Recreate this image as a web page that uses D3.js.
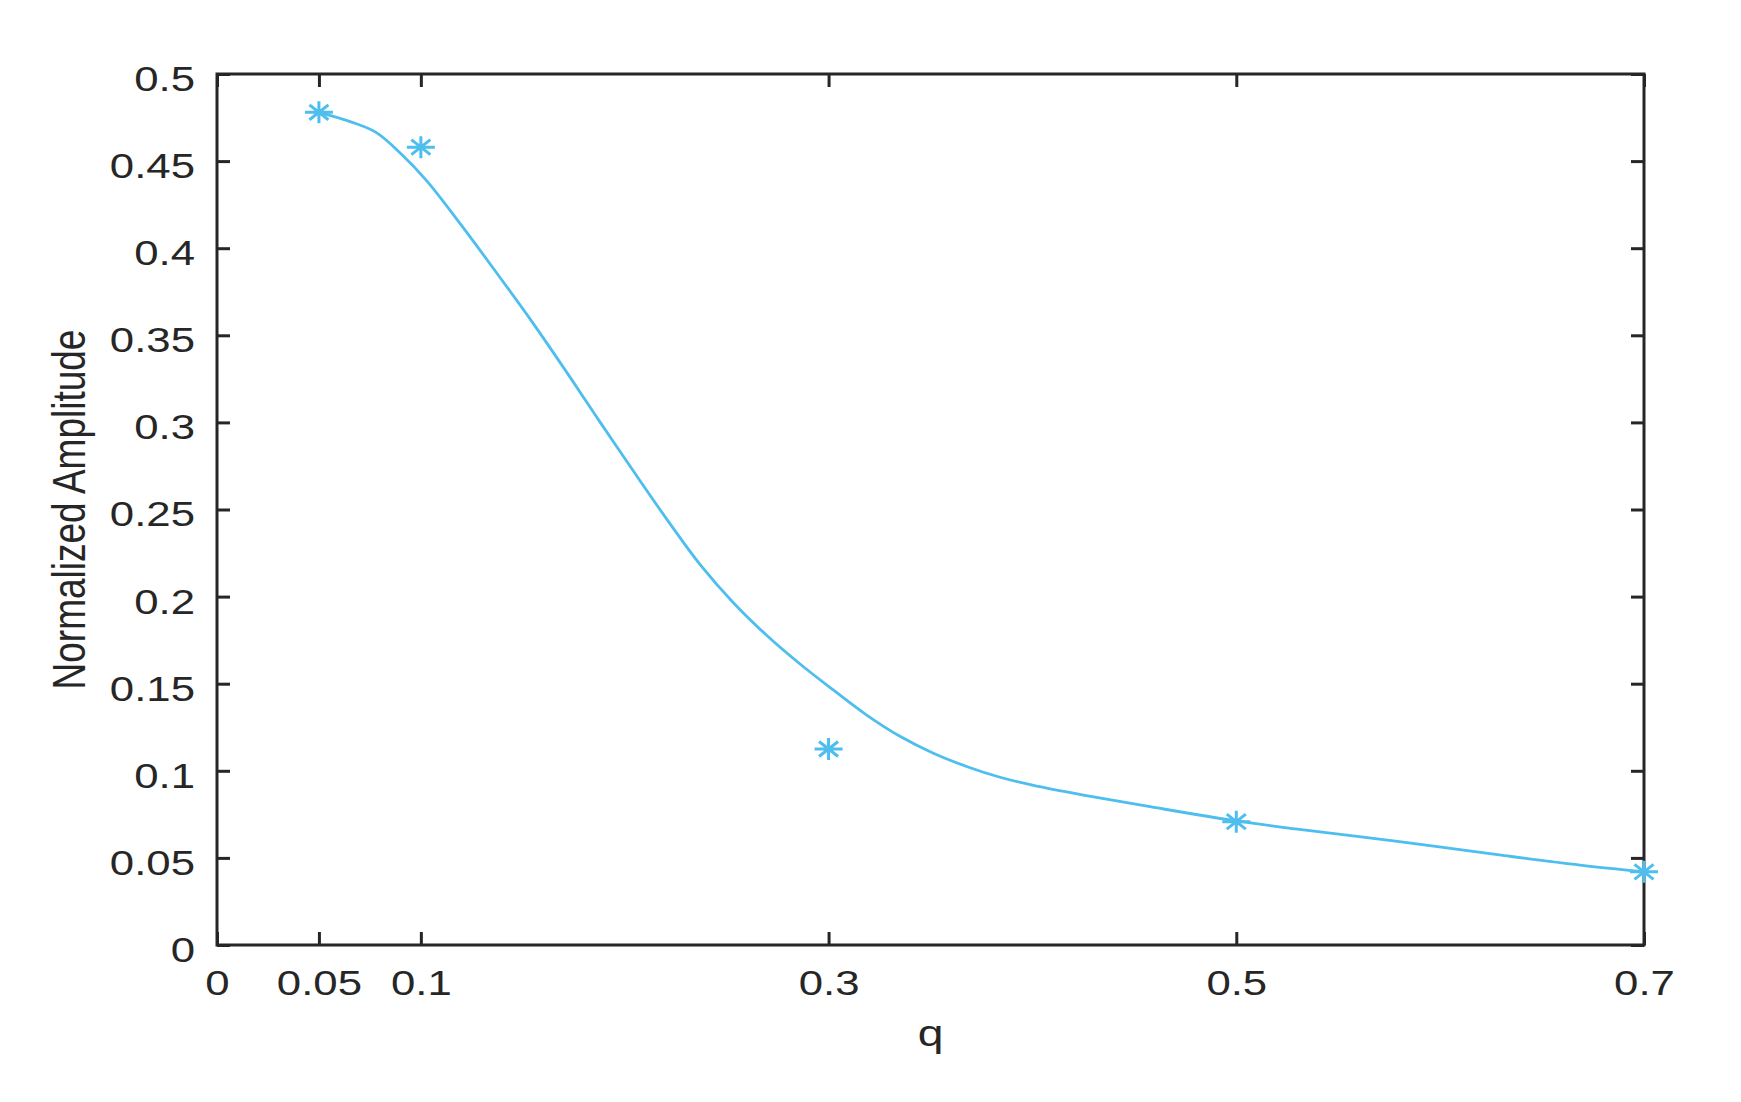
<!DOCTYPE html>
<html>
<head>
<meta charset="utf-8">
<script src="https://cdn.jsdelivr.net/npm/d3@7"></script>
<style>
  body { margin: 0; background: #fff; }
  text { font-family: "Liberation Sans", Arial, sans-serif; fill: #262626; }
</style>
</head>
<body>
<script>
// measured points (markers)
var pointQ = [0.05, 0.1, 0.3, 0.5, 0.7];
var pointAmp = [0.478, 0.458, 0.1125, 0.0708, 0.042];

// fitted curve
var curveQ = [0.05, 0.065, 0.078, 0.09, 0.103, 0.119, 0.1355, 0.155, 0.172, 0.188,
              0.204, 0.2206, 0.2369, 0.2533, 0.2696, 0.286, 0.3023, 0.3187, 0.335, 0.3514,
              0.3677, 0.3841, 0.4, 0.425, 0.4577, 0.5, 0.53, 0.58, 0.629, 0.6686, 0.7];
var curveAmp = [0.478, 0.4728, 0.4665, 0.4545, 0.4385, 0.4145, 0.3885, 0.357, 0.328, 0.3, 
                0.2725, 0.2445, 0.2185, 0.1965, 0.1778, 0.1613, 0.1464, 0.132, 0.1198, 0.1101,
                0.1025, 0.0963, 0.0918, 0.0861, 0.0794, 0.0712, 0.0665, 0.0593, 0.0517, 0.0459, 0.0421];

var xTicks = [0, 0.05, 0.1, 0.3, 0.5, 0.7];
var yTicks = [0, 0.05, 0.1, 0.15, 0.2, 0.25, 0.3, 0.35, 0.4, 0.45, 0.5];

var W = 1741, H = 1102;
var pLeft = 217, pRight = 1644, pTop = 74, pBottom = 945;
var ink = "#262626", blue = "#4DBEEE";
var stretch = 1.25; // the picture is wide-stretched; text follows it

var svg = d3.select("body")
    .append("svg")
    .attr("width", W)
    .attr("height", H);

var x = d3.scaleLinear().domain([0, 0.7]).range([pLeft, pRight]);
var y = d3.scaleLinear().domain([0, 0.5]).range([pBottom, pTop]);

function styleAxis(g) {
  g.select(".domain").remove();
  g.selectAll(".tick line").attr("stroke", ink).attr("stroke-width", 3);
}

// bottom axis with labels
var gx = svg.append("g")
    .attr("transform", "translate(0," + pBottom + ")")
    .call(d3.axisBottom(x).tickValues(xTicks).tickFormat(d3.format("")).tickSizeInner(-13).tickSizeOuter(0).tickPadding(25));
styleAxis(gx);
gx.selectAll(".tick text")
    .attr("font-size", 35)
    .attr("fill", ink)
    .attr("transform", "scale(" + stretch + ",1)");

// left axis with labels
var gy = svg.append("g")
    .attr("transform", "translate(" + pLeft + ",0)")
    .call(d3.axisLeft(y).tickValues(yTicks).tickFormat(d3.format("")).tickSizeInner(-13).tickSizeOuter(0).tickPadding(0));
styleAxis(gy);
gy.selectAll(".tick text")
    .attr("font-size", 35)
    .attr("fill", ink)
    .attr("x", 0)
    .attr("dy", "0.47em")
    .attr("transform", "translate(-22,0) scale(" + stretch + ",1)");

svg.selectAll("g").attr("font-family", null).attr("font-size", null);

// mirrored ticks on top and right
var gt = svg.append("g")
    .attr("transform", "translate(0," + pTop + ")")
    .call(d3.axisTop(x).tickValues(xTicks).tickFormat("").tickSizeInner(-13).tickSizeOuter(0));
styleAxis(gt);
var gr = svg.append("g")
    .attr("transform", "translate(" + pRight + ",0)")
    .call(d3.axisRight(y).tickValues(yTicks).tickFormat("").tickSizeInner(-13).tickSizeOuter(0));
styleAxis(gr);

// box
svg.append("rect")
    .attr("x", pLeft)
    .attr("y", pTop)
    .attr("width", pRight - pLeft)
    .attr("height", pBottom - pTop)
    .attr("fill", "none")
    .attr("stroke", ink)
    .attr("stroke-width", 3);

// curve
var curveData = curveQ.map(function(q, i) { return [q, curveAmp[i]]; });
var line = d3.line()
    .x(function(d) { return x(d[0]); })
    .y(function(d) { return y(d[1]); })
    .curve(d3.curveCatmullRom.alpha(0.5));

svg.append("path")
    .datum(curveData)
    .attr("fill", "none")
    .attr("stroke", blue)
    .attr("stroke-width", 2.8)
    .attr("d", line);

// asterisk markers (plus + cross)
var rx = 14, ry = 11;
function asterisk(cx, cy) {
  var p = d3.path();
  p.moveTo(cx - rx, cy); p.lineTo(cx + rx, cy);
  p.moveTo(cx, cy - ry); p.lineTo(cx, cy + ry);
  p.moveTo(cx - rx * 0.68, cy - ry * 0.68); p.lineTo(cx + rx * 0.68, cy + ry * 0.68);
  p.moveTo(cx - rx * 0.68, cy + ry * 0.68); p.lineTo(cx + rx * 0.68, cy - ry * 0.68);
  return p.toString();
}
svg.append("g")
    .selectAll("path")
    .data(pointQ.map(function(q, i) { return [q, pointAmp[i]]; }))
    .enter().append("path")
    .attr("fill", "none")
    .attr("stroke", blue)
    .attr("stroke-width", 3)
    .attr("d", function(d) { return asterisk(x(d[0]), y(d[1])); });

// axis titles
svg.append("text")
    .attr("transform", "translate(" + ((pLeft + pRight) / 2) + ",1046) scale(" + stretch + ",1)")
    .attr("text-anchor", "middle")
    .attr("font-size", 37)
    .text("q");

svg.append("text")
    .attr("transform", "translate(85," + ((pTop + pBottom) / 2) + ") scale(" + stretch + ",1) rotate(-90)")
    .attr("text-anchor", "middle")
    .attr("font-size", 37)
    .text("Normalized Amplitude");
</script>
</body>
</html>
